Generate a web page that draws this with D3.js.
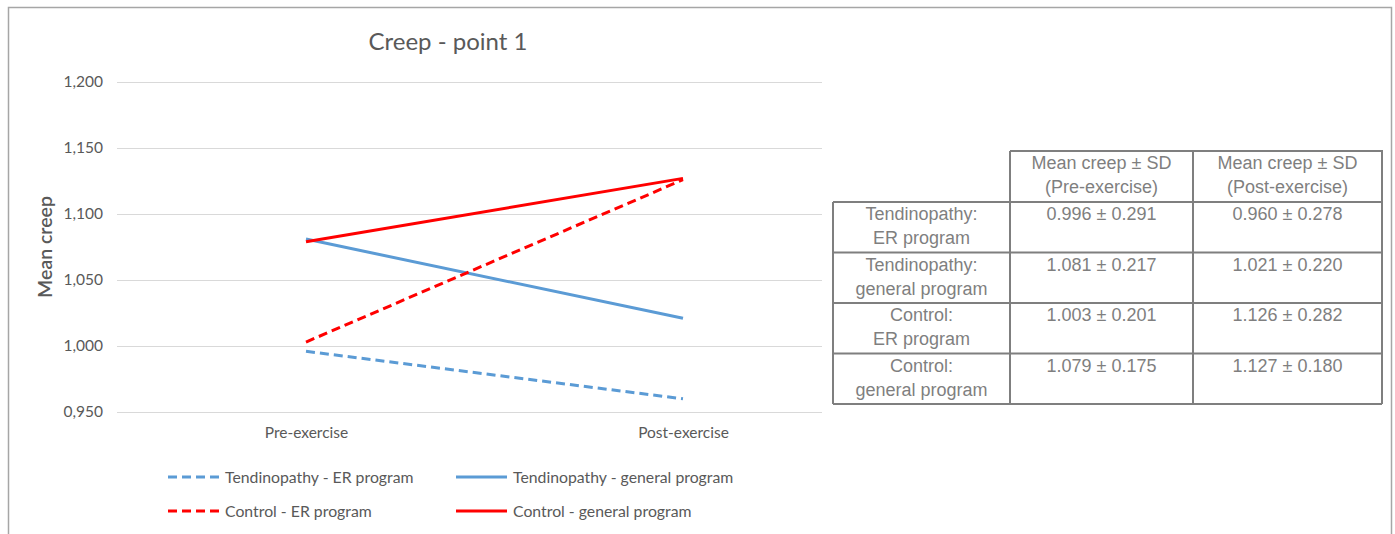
<!DOCTYPE html>
<html>
<head>
<meta charset="utf-8">
<script src="https://cdn.jsdelivr.net/npm/d3@7"></script>
<style>
  html, body { margin: 0; padding: 0; background: #fff; }
  svg { display: block; }
</style>
</head>
<body>
<svg id="chart" width="1395" height="534"></svg>
<script>
// Time points on the x axis
const phases = ["Pre-exercise", "Post-exercise"];

// Mean creep per group at each time point
const tendinopathyER = [0.996, 0.960];
const tendinopathyGeneral = [1.081, 1.021];
const controlER = [1.003, 1.126];
const controlGeneral = [1.079, 1.127];

// Standard deviations shown in the summary table
const tendinopathyER_sd = [0.291, 0.278];
const tendinopathyGeneral_sd = [0.217, 0.220];
const controlER_sd = [0.201, 0.282];
const controlGeneral_sd = [0.175, 0.180];

const yTicks = [0.95, 1.0, 1.05, 1.1, 1.15, 1.2];

const seriesNames = [
  "Tendinopathy - ER program",
  "Tendinopathy - general program",
  "Control - ER program",
  "Control - general program"
];
const tableRowLabels = [
  ["Tendinopathy:", "ER program"],
  ["Tendinopathy:", "general program"],
  ["Control:", "ER program"],
  ["Control:", "general program"]
];
const tableHeaders = [
  ["Mean creep ± SD", "(Pre-exercise)"],
  ["Mean creep ± SD", "(Post-exercise)"]
];

const BLUE = "#5b9bd5", RED = "#ff0000";
const series = [
  { name: seriesNames[0], values: tendinopathyER, sd: tendinopathyER_sd, color: BLUE, dashed: true },
  { name: seriesNames[1], values: tendinopathyGeneral, sd: tendinopathyGeneral_sd, color: BLUE, dashed: false },
  { name: seriesNames[2], values: controlER, sd: controlER_sd, color: RED, dashed: true },
  { name: seriesNames[3], values: controlGeneral, sd: controlGeneral_sd, color: RED, dashed: false }
];

const svg = d3.select("#chart");
const FONT = "Lato, 'Open Sans', sans-serif";
const TEXT = "#595959";

// outer frame (open at the bottom)
svg.append("path")
  .attr("d", "M8.5,534 L8.5,7.5 L1391.5,7.5 L1391.5,534")
  .attr("fill", "none").attr("stroke", "#a6a6a6").attr("stroke-width", 1.5);

// scales
const x = d3.scalePoint().domain(phases).range([306, 683]);
const y = d3.scaleLinear().domain([0.95, 1.2]).range([412, 82]);
const gridX0 = 117, gridX1 = 822;

// gridlines
svg.append("g").selectAll("line").data(yTicks).join("line")
  .attr("x1", gridX0).attr("x2", gridX1)
  .attr("y1", d => Math.round(y(d)) + 0.5).attr("y2", d => Math.round(y(d)) + 0.5)
  .attr("stroke", "#d9d9d9").attr("stroke-width", 1);

// y axis tick labels
const yAxis = d3.axisLeft(y).tickValues(yTicks).tickSize(0).tickPadding(0)
  .tickFormat(d => d3.format(".3f")(d).replace(".", ","));
const yg = svg.append("g").attr("transform", "translate(103,0)").call(yAxis);
yg.select(".domain").remove();
yg.selectAll("text").attr("font-family", FONT).attr("font-size", 15.5).attr("fill", TEXT);

// x axis labels
const xAxis = d3.axisBottom(x).tickSize(0).tickPadding(0);
const xg = svg.append("g").attr("transform", "translate(0,427)").call(xAxis);
xg.select(".domain").remove();
xg.selectAll("text").attr("font-family", FONT).attr("font-size", 15.5).attr("fill", TEXT);

// title
svg.append("text").attr("x", 448).attr("y", 50).attr("text-anchor", "middle")
  .attr("font-family", FONT).attr("font-size", 24).attr("fill", TEXT)
  .text("Creep - point 1");

// y axis title
svg.append("text").attr("transform", "translate(52,247) rotate(-90)")
  .attr("text-anchor", "middle").attr("font-family", FONT).attr("font-size", 19.5)
  .attr("font-weight", 600).attr("fill", TEXT).text("Mean creep");

// series lines
const line = d3.line().x((d, i) => x(phases[i])).y(d => y(d));
svg.append("g").selectAll("path").data(series).join("path")
  .attr("d", d => line(d.values))
  .attr("fill", "none").attr("stroke", d => d.color).attr("stroke-width", 3)
  .attr("stroke-dasharray", d => d.dashed ? "9,5" : null);

// legend
const legendPos = [[168, 477], [456, 477], [168, 511], [456, 511]];
const lg = svg.append("g").selectAll("g").data(series).join("g")
  .attr("transform", (d, i) => `translate(${legendPos[i][0]},${legendPos[i][1]})`);
lg.append("line").attr("x1", 0).attr("x2", 51).attr("y1", 0).attr("y2", 0)
  .attr("stroke", d => d.color).attr("stroke-width", 3)
  .attr("stroke-dasharray", d => d.dashed ? "9,5" : null);
lg.append("text").attr("x", 57).attr("y", 0).attr("dy", "0.35em")
  .attr("font-family", FONT).attr("font-size", 15.8).attr("fill", TEXT)
  .text(d => d.name);

// summary table
const colX = [833, 1010, 1193, 1382];
const rowY = [151, 202, 252.5, 303, 353.5, 404];
const TFONT = "'Liberation Sans', Arial, sans-serif";
const TSIZE = 18;
const TCOL = "#7f7f7f";
const tg = svg.append("g");
const fmt = d3.format(".3f");

// header cells
tableHeaders.forEach((h, j) => {
  const cx = (colX[j + 1] + colX[j + 2]) / 2;
  h.forEach((t, k) => {
    tg.append("text").attr("x", cx).attr("y", rowY[0] + 18 + k * 24)
      .attr("text-anchor", "middle").attr("font-family", TFONT).attr("font-size", TSIZE)
      .attr("fill", TCOL).text(t);
  });
});

// body cells
series.forEach((s, i) => {
  const top = rowY[i + 1];
  tableRowLabels[i].forEach((t, k) => {
    tg.append("text").attr("x", (colX[0] + colX[1]) / 2).attr("y", top + 18 + k * 24)
      .attr("text-anchor", "middle").attr("font-family", TFONT).attr("font-size", TSIZE)
      .attr("fill", TCOL).text(t);
  });
  s.values.forEach((v, j) => {
    tg.append("text").attr("x", (colX[j + 1] + colX[j + 2]) / 2).attr("y", top + 18)
      .attr("text-anchor", "middle").attr("font-family", TFONT).attr("font-size", TSIZE)
      .attr("fill", TCOL).text(`${fmt(v)} ± ${fmt(s.sd[j])}`);
  });
});

// table grid
const gl = tg.append("g").attr("stroke", "#7f7f7f").attr("stroke-width", 2).attr("fill", "none");
// header row box (no left cell)
gl.append("path").attr("d",
  `M${colX[1]},${rowY[0]} H${colX[3]} V${rowY[1]} M${colX[1]},${rowY[0]} V${rowY[1]} M${colX[2]},${rowY[0]} V${rowY[1]}`);
// body rows
for (let r = 1; r < rowY.length; r++) {
  gl.append("line").attr("x1", colX[0]).attr("x2", colX[3]).attr("y1", rowY[r]).attr("y2", rowY[r]);
}
colX.forEach(cx => {
  gl.append("line").attr("x1", cx).attr("x2", cx).attr("y1", rowY[1]).attr("y2", rowY[rowY.length - 1]);
});
</script>
</body>
</html>
